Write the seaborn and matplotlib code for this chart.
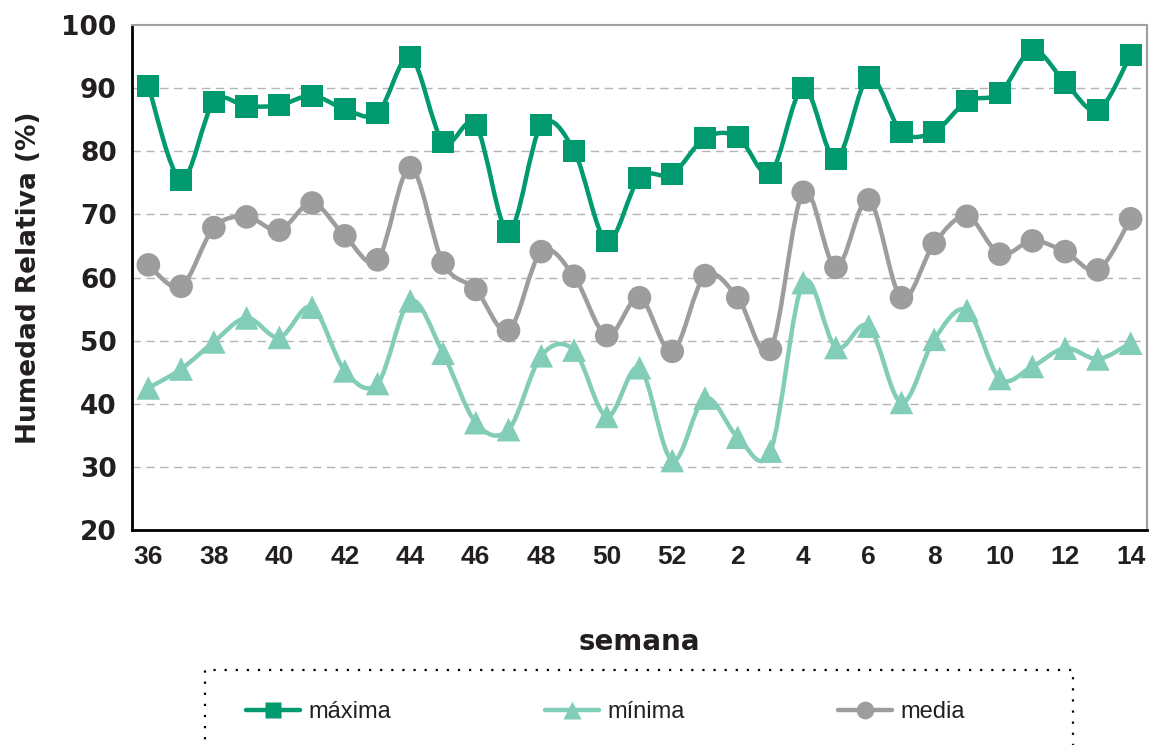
import numpy as np
import matplotlib
matplotlib.use("Agg")
import matplotlib.pyplot as plt
from matplotlib.path import Path
from matplotlib.patches import PathPatch, Rectangle
from matplotlib.lines import Line2D
import seaborn as sns

weeks = list(range(36, 53)) + list(range(1, 15))
maxima = [90.3, 75.5, 87.8, 87.1, 87.3, 88.8, 86.7, 86.0, 94.9, 81.5, 84.1, 67.3, 84.1, 80.1, 65.8, 75.8, 76.4,
          82.1, 82.3, 76.6, 90.0, 78.8, 91.7, 83.1, 83.1, 87.9, 89.2, 96.0, 90.9, 86.5, 95.3]
minima = [42.5, 45.5, 49.8, 53.6, 50.5, 55.3, 45.2, 43.2, 56.3, 48.0, 37.0, 35.9, 47.6, 48.5, 38.0, 45.7, 31.0,
          40.9, 34.7, 32.5, 59.2, 48.9, 52.3, 40.2, 50.2, 54.8, 44.0, 45.9, 48.8, 47.1, 49.6]
media = [62.0, 58.6, 67.9, 69.6, 67.5, 71.8, 66.6, 62.8, 77.4, 62.3, 58.1, 51.6, 64.1, 60.2, 50.8, 56.8, 48.3,
         60.3, 56.8, 48.6, 73.5, 61.6, 72.3, 56.8, 65.4, 69.7, 63.7, 65.8, 64.1, 61.2, 69.3]

series = [("máxima", maxima, "#009a6e", "s", 16),
          ("mínima", minima, "#82cdb7", "^", 17),
          ("media", media, "#9d9d9d", "o", 17)]

sns.set_style("white")
ink = "#231f20"
plt.rcParams["text.color"] = ink
plt.rcParams["xtick.color"] = ink
plt.rcParams["ytick.color"] = ink
plt.rcParams["axes.labelcolor"] = ink

fig = plt.figure(figsize=(11.49, 7.45), dpi=100)
ax = fig.add_axes([132 / 1149, 1 - 530 / 745, (1147 - 132) / 1149, (530 - 25) / 745])

x = np.arange(len(weeks))


def smooth_path(xs, ys):
    # excel-like smoothed line: cubic bezier through the points
    pts = np.column_stack([xs, ys])
    n = len(pts)
    verts = [pts[0]]
    codes = [Path.MOVETO]
    for i in range(n - 1):
        p0 = pts[i - 1] if i > 0 else pts[i]
        p1 = pts[i]
        p2 = pts[i + 1]
        p3 = pts[i + 2] if i + 2 < n else pts[i + 1]
        verts += [p1 + (p2 - p0) / 6, p2 - (p3 - p1) / 6, p2]
        codes += [Path.CURVE4] * 3
    return Path(verts, codes)


for name, vals, col, mk, ms in series:
    ax.add_patch(PathPatch(smooth_path(x, vals), fill=False, edgecolor=col, lw=3.2, zorder=3))
    sns.scatterplot(x=x, y=vals, marker=mk, s=ms ** 2, color=col, edgecolor="none", ax=ax, zorder=4)

ax.set_xlim(-0.5, len(weeks) - 0.5)
ax.set_ylim(20, 100)
ax.set_yticks(range(20, 101, 10))
ax.set_xticks(x[::2])
ax.set_xticklabels([str(w) for w in weeks[::2]], fontsize=19, fontweight="bold", family="Liberation Sans")
ax.set_xticks(np.arange(-0.5, len(weeks)), minor=True)
ax.tick_params(axis="x", which="major", length=0, pad=11)
ax.tick_params(axis="x", which="minor", length=7, width=1.5, direction="out", color="black")
ax.tick_params(axis="y", length=7, width=1.5, direction="out", color="black", pad=4)
for lab in ax.get_yticklabels():
    lab.set_fontsize(19)
    lab.set_fontweight("bold")
ax.grid(False)
for v in range(30, 100, 10):
    ax.axhline(v, color="#b4b4b4", lw=1, ls=(0, (6, 4)), zorder=1)

for s in ["left", "bottom"]:
    ax.spines[s].set_color("black")
    ax.spines[s].set_linewidth(2)
for s in ["top", "right"]:
    ax.spines[s].set_color("#a0a0a0")
    ax.spines[s].set_linewidth(1.5)

ax.set_ylabel("Humedad Relativa (%)", fontsize=19, fontweight="bold", labelpad=14)
ax.set_xlabel("semana", fontsize=20, fontweight="bold", labelpad=42)

handles = [Line2D([], [], color=col, lw=3.2, marker=mk, markersize=ms * 0.75, markeredgecolor="none")
           for name, vals, col, mk, ms in series]
fig.legend(handles, [s[0] for s in series], loc="center left", bbox_to_anchor=(234 / 1149, 1 - 712 / 745),
           ncol=3, frameon=False, handlelength=2.3, handletextpad=0.35, columnspacing=6.5, borderpad=0,
           prop={"family": "Liberation Sans", "size": 17})
fig.patches.append(Rectangle((205 / 1149, -0.05), (1073 - 205) / 1149, 1 - 670 / 745 + 0.05,
                             transform=fig.transFigure, fill=False, edgecolor="black", lw=1.6,
                             ls=(0, (1, 4))))

fig.savefig("out.png", dpi=100)
